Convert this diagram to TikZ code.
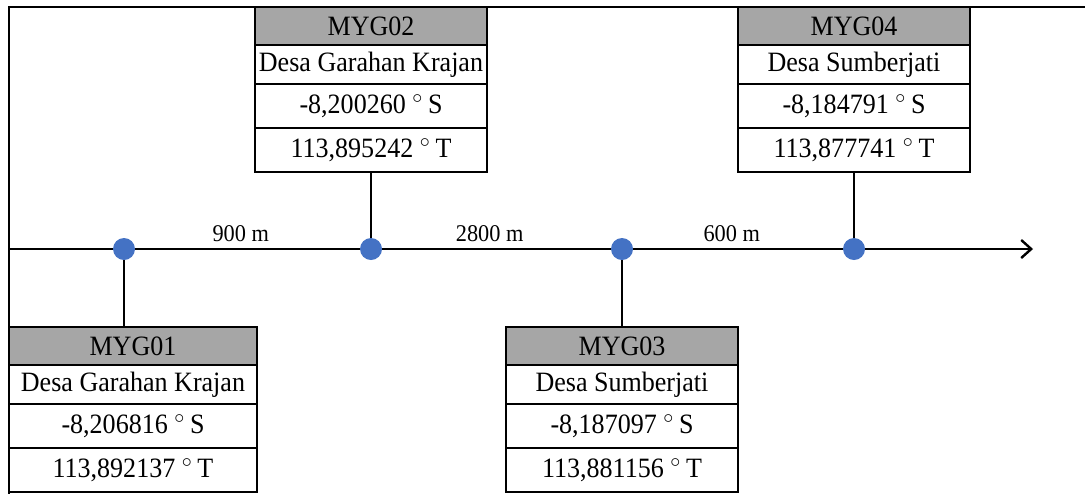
\documentclass[tikz,border=0pt]{standalone}
\usepackage{fontspec}
\setmainfont{Liberation Serif}[FakeStretch=0.93]
\usetikzlibrary{arrows.meta,positioning}
\definecolor{headgray}{RGB}{166,166,166}
\definecolor{dotblue}{RGB}{68,114,196}

\begin{document}
\begin{tikzpicture}[
  x=0.5pt,
  y=-0.5pt,
  frame/.style={line width=1pt},
  axis/.style={-{Straight Barb[length=5pt,width=9pt]},line width=1.2pt},
  stem/.style={line width=.6pt},
  cell/.style={draw,line width=.8pt,minimum width=116pt,inner xsep=0pt,
    inner ysep=0pt,outer sep=0pt,align=center,font=\fontsize{14}{16}\selectfont},
  head/.style={cell,fill=headgray,minimum height=19pt},
  place/.style={cell,minimum height=19.5pt},
  coord/.style={cell,minimum height=22pt},
  wide/.style={minimum width=124pt},
  dot/.style={circle,fill=dotblue,minimum size=11pt,inner sep=0pt},
  dist/.style={inner sep=3.5pt,font=\fontsize{12}{14}\selectfont}
]
\useasboundingbox (0,0) rectangle (1085,494);

\draw[frame] (1085,7) -- (9,7) -- (9,494);

% stations above the line
\node[head,anchor=north] (g2h) at (371,7) {MYG02};
\node[place,below=0pt of g2h] (g2n) {Desa Garahan Krajan};
\node[coord,below=0pt of g2n] (g2s) {-8,200260 $^{\circ}$\,S};
\node[coord,below=0pt of g2s] (g2t) {113,895242 $^{\circ}$\,T};

\node[head,anchor=north] (g4h) at (854,7) {MYG04};
\node[place,below=0pt of g4h] (g4n) {Desa Sumberjati};
\node[coord,below=0pt of g4n] (g4s) {-8,184791 $^{\circ}$\,S};
\node[coord,below=0pt of g4s] (g4t) {113,877741 $^{\circ}$\,T};

% stations below the line
\node[head,wide,anchor=north west] (g1h) at (9,327) {MYG01};
\node[place,wide,below=0pt of g1h] (g1n) {Desa Garahan Krajan};
\node[coord,wide,below=0pt of g1n] (g1s) {-8,206816 $^{\circ}$\,S};
\node[coord,wide,below=0pt of g1s] (g1t) {113,892137 $^{\circ}$\,T};

\node[head,anchor=north] (g3h) at (622,327) {MYG03};
\node[place,below=0pt of g3h] (g3n) {Desa Sumberjati};
\node[coord,below=0pt of g3n] (g3s) {-8,187097 $^{\circ}$\,S};
\node[coord,below=0pt of g3s] (g3t) {113,881156 $^{\circ}$\,T};

% the line and its points
\coordinate (axl) at (9,249);
\coordinate (axr) at (1033,249);
\draw[axis] (axl) -- (axr);

\node[dot] (dot1) at (124,249) {};
\node[dot] (dot2) at (371,249) {};
\node[dot] (dot3) at (622,249) {};
\node[dot] (dot4) at (854,249) {};

\draw[stem] (dot1) -- (dot1 |- g1h.north);
\draw[stem] (dot2) -- (dot2 |- g2t.south);
\draw[stem] (dot3) -- (dot3 |- g3h.north);
\draw[stem] (dot4) -- (dot4 |- g4t.south);

\path (dot1) -- node[dist,pos=.47,above]{900 m} (dot2);
\path (dot2) -- node[dist,pos=.47,above]{2800 m} (dot3);
\path (dot3) -- node[dist,pos=.47,above]{600 m} (dot4);

\end{tikzpicture}
\end{document}
